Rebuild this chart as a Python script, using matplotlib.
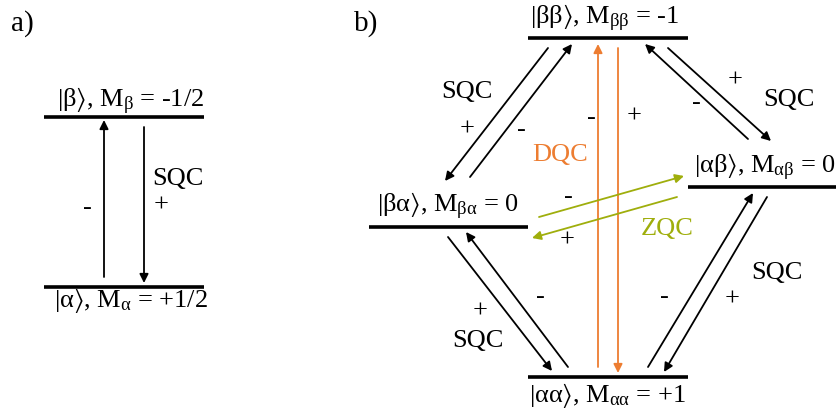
import matplotlib
matplotlib.use('Agg')
import matplotlib.pyplot as plt

plt.rcParams['font.family'] = ['Liberation Serif', 'DejaVu Serif']
plt.rcParams['mathtext.fontset'] = 'custom'
plt.rcParams['mathtext.rm'] = 'Liberation Serif'
plt.rcParams['mathtext.it'] = 'Liberation Serif'
plt.rcParams['mathtext.fallback'] = 'stix'

ORANGE = '#ED7D31'
GREEN = '#9FAE0C'

# energy levels: (x start, x end, y)
levels_a = [(44, 204, 118), (44, 204, 288)]
levels_b = [(528, 688, 39), (369, 528, 228), (688, 837, 188), (528, 688, 378)]

# level labels: (text, x center, y center)
level_labels = [
    (r'$\mathrm{|β\rangle}$, M$_\mathrm{β}$ = -1/2', 131, 101),
    (r'$\mathrm{|α\rangle}$, M$_\mathrm{α}$ = +1/2', 131, 301),
    (r'$\mathrm{|ββ\rangle}$, M$_\mathrm{ββ}$ = -1', 605, 18),
    (r'$\mathrm{|βα\rangle}$, M$_\mathrm{βα}$ = 0', 448, 206),
    (r'$\mathrm{|αβ\rangle}$, M$_\mathrm{αβ}$ = 0', 765, 167),
    (r'$\mathrm{|αα\rangle}$, M$_\mathrm{αα}$ = +1', 607, 396),
]

# transitions: (x tail, y tail, x head, y head, colour)
arrows = [
    (104, 278, 104, 121, 'black'),
    (144, 128, 144, 284, 'black'),
    # SQC betaalpha <-> betabeta
    (470, 178, 572, 45, 'black'),
    (548, 49, 445, 182, 'black'),
    # SQC betabeta <-> alphabeta
    (748, 140, 645, 45, 'black'),
    (668, 49, 771, 142, 'black'),
    # SQC betaalpha <-> alphaalpha
    (448, 238, 552, 372, 'black'),
    (568, 368, 466, 233, 'black'),
    # SQC alphaalpha <-> alphabeta
    (648, 368, 753, 194, 'black'),
    (767, 198, 664, 373, 'black'),
    # DQC
    (598, 368, 598, 45, ORANGE),
    (618, 49, 618, 374, ORANGE),
    # ZQC
    (539, 218, 684, 177, GREEN),
    (677, 198, 532, 239, GREEN),
]

# annotations: (text, x, y, colour)
notes = [
    ('a)', 22, 24, 'black'),
    ('b)', 366, 24, 'black'),
    ('-', 87, 208, 'black'),
    ('SQC', 178, 179, 'black'),
    ('+', 161, 206, 'black'),
    ('SQC', 467, 92, 'black'),
    ('+', 467, 130, 'black'),
    ('-', 521, 130, 'black'),
    ('+', 735, 81, 'black'),
    ('-', 696, 103, 'black'),
    ('SQC', 789, 100, 'black'),
    ('-', 591, 118, 'black'),
    ('+', 634, 117, 'black'),
    ('DQC', 560, 155, ORANGE),
    ('-', 568, 197, 'black'),
    ('+', 567, 241, 'black'),
    ('ZQC', 667, 229, GREEN),
    ('+', 480, 312, 'black'),
    ('SQC', 478, 341, 'black'),
    ('-', 540, 297, 'black'),
    ('-', 664, 297, 'black'),
    ('+', 732, 300, 'black'),
    ('SQC', 777, 273, 'black'),
]

fig = plt.figure(figsize=(8.37, 4.14), dpi=100)
ax = fig.add_axes([0, 0, 1, 1])
ax.set_xlim(0, 837)
ax.set_ylim(414, 0)
ax.axis('off')

for x0, x1, y in levels_a + levels_b:
    ax.plot([x0, x1], [y, y], color='black', lw=2.6, solid_capstyle='butt')

for txt, x, y in level_labels:
    ax.text(x, y, txt, fontsize=19, ha='center', va='center')

for x0, y0, x1, y1, c in arrows:
    ax.annotate('', xy=(x1, y1), xytext=(x0, y0),
                arrowprops=dict(arrowstyle='-|>', color=c, lw=1.3,
                                mutation_scale=13, shrinkA=0, shrinkB=0))

for txt, x, y, c in notes:
    size = 21 if txt.endswith(')') else 19
    ax.text(x, y, txt, fontsize=size, color=c, ha='center', va='center')

plt.savefig('out.png', dpi=100)
